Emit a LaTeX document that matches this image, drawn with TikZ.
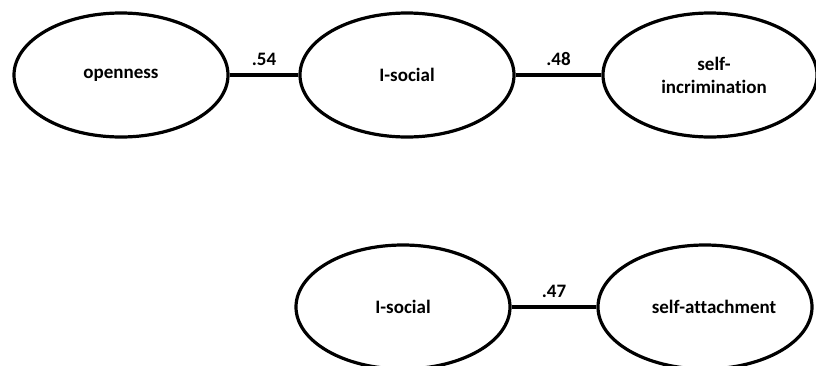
\documentclass[tikz,border=0pt]{standalone}
\usepackage{fontspec}
\setmainfont{Carlito}[Ligatures=NoCommon]
\usetikzlibrary{shapes.geometric}
\begin{document}
\begin{tikzpicture}[x=1bp,y=-1bp,
  latent/.style={ellipse,draw=black,line width=3.2bp,minimum width=214bp,minimum height=124bp,inner sep=0pt,align=center,font=\bfseries\fontsize{19bp}{23bp}\selectfont},
  path/.style={line width=3.2bp},
  coef/.style={midway,above=4bp,font=\bfseries\fontsize{19bp}{22bp}\selectfont}]
\clip (0,0) rectangle (816,365);
\useasboundingbox (0,0) rectangle (816,365);
\node[latent] (open) at (121,75) {openness};
\node[latent] (isoc1) at (407,75) {I-social};
\node[latent] (selfinc) at (710,75) {\hspace*{8bp}self-\\\hspace*{8bp}incrimination};
\node[latent] (isoc2) at (403,307) {I-social};
\node[latent] (selfatt) at (705,307) {\hspace*{18bp}self-attachment};
\draw[path] (open.east) -- (isoc1.west) node[coef] {.54};
\draw[path] (isoc1.east) -- (selfinc.west) node[coef] {.48};
\draw[path] (isoc2.east) -- (selfatt.west) node[coef] {.47};
\end{tikzpicture}
\end{document}
